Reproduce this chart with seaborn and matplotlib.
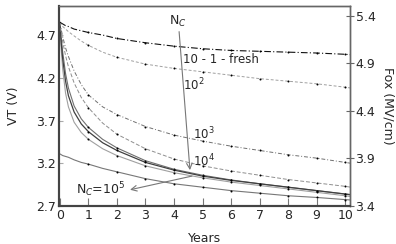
import seaborn as sns
import matplotlib.pyplot as plt
import pandas as pd
import numpy as np

# years since stress start
years = [0, 0.05, 0.1, 0.2, 0.3, 0.5, 0.75, 1, 1.5, 2, 3, 4, 5, 6, 7, 8, 9, 10, 10.2]

# VT curves
vt_fresh = [4.85, 4.84, 4.83, 4.81, 4.80, 4.77, 4.75, 4.73, 4.70, 4.66, 4.61, 4.57, 4.54, 4.52, 4.51, 4.50, 4.49, 4.475, 4.47]
vt_1e2 = [4.85, 4.82, 4.80, 4.77, 4.74, 4.69, 4.63, 4.58, 4.50, 4.44, 4.36, 4.31, 4.27, 4.23, 4.19, 4.16, 4.13, 4.09, 4.08]
vt_1e3 = [4.85, 4.76, 4.68, 4.55, 4.45, 4.28, 4.12, 4.00, 3.86, 3.77, 3.63, 3.53, 3.46, 3.40, 3.35, 3.30, 3.26, 3.21, 3.20]
vt_1e4 = [4.85, 4.72, 4.62, 4.46, 4.33, 4.14, 3.97, 3.85, 3.67, 3.54, 3.37, 3.25, 3.17, 3.11, 3.06, 3.01, 2.97, 2.93, 2.92]
vt_s1 = [4.85, 4.60, 4.42, 4.16, 3.99, 3.80, 3.66, 3.57, 3.44, 3.35, 3.21, 3.12, 3.05, 3.00, 2.96, 2.92, 2.88, 2.84, 2.83]
vt_s2 = [4.85, 4.52, 4.30, 4.02, 3.86, 3.68, 3.56, 3.48, 3.37, 3.29, 3.17, 3.09, 3.03, 2.98, 2.94, 2.90, 2.86, 2.82, 2.81]
vt_s3 = [4.85, 4.66, 4.50, 4.25, 4.08, 3.87, 3.72, 3.62, 3.48, 3.38, 3.23, 3.13, 3.06, 3.005, 2.96, 2.92, 2.88, 2.84, 2.835]
vt_1e5 = [3.31, 3.30, 3.29, 3.28, 3.27, 3.24, 3.21, 3.19, 3.14, 3.10, 3.02, 2.96, 2.92, 2.88, 2.85, 2.82, 2.80, 2.775, 2.77]

vt_ticks = [2.7, 3.2, 3.7, 4.2, 4.7]
fox_ticks = [3.4, 3.9, 4.4, 4.9, 5.4]

sns.set_style("ticks")
plt.rcParams['font.family'] = ['DejaVu Sans']

fig = plt.figure(figsize=(3.96, 2.44), dpi=100)
ax = fig.add_axes([59/396, 38/244, 291/396, 200/244])

marks = [i for i, x in enumerate(years) if float(x).is_integer() and x > 0]
curves = [
    (vt_s2, '#a0a0a0', '-', 0.8),
    (vt_s3, '#707070', '-', 0.8),
    (vt_s1, '#404040', '-', 0.9),
    (vt_1e5, '#777777', '-', 0.8),
    (vt_1e4, '#8e8e8e', (0, (4, 2)), 0.7),
    (vt_1e3, '#707070', (0, (4, 2, 1, 2)), 0.7),
    (vt_1e2, '#a0a0a0', (0, (3, 2)), 0.7),
    (vt_fresh, '#111111', (0, (6, 2, 1, 2)), 0.8),
]
for vals, col, ls, lw in curves:
    sns.lineplot(x=years, y=vals, ax=ax, color=col, linestyle=ls, linewidth=lw,
                 marker='.', markersize=1.4, markerfacecolor='black',
                 markeredgecolor='black', markevery=marks)

ax.set_xlim(-0.03, 10.17)
ax.set_ylim(2.7, 5.04)
ax.set_xticks(range(11))
ax.set_yticks(vt_ticks)
ax.set_yticklabels([f"{v:.1f}" for v in vt_ticks])
ax.tick_params(axis='y', direction='in', length=3, color='#aaaaaa', labelsize=9, pad=2)
ax.tick_params(axis='x', direction='in', length=6, color='#777777', labelsize=9, pad=2)
ax.set_xlabel("Years", fontsize=9)
ax.set_ylabel("VT (V)", fontsize=9)
ax.xaxis.set_label_coords(0.5, -0.13)
ax.yaxis.set_label_coords(-0.135, 0.5)

ax2 = ax.twinx()
ax2.set_ylim(3.4, 5.505)
ax2.set_yticks(fox_ticks)
ax2.set_yticklabels([f"{v:.1f}" for v in fox_ticks])
ax2.tick_params(axis='y', direction='inout', length=6, color='#666666', labelsize=9, pad=1)
ax2.set_ylabel("Fox (MV/cm)", fontsize=9, rotation=270, va='center')
ax2.yaxis.set_label_coords(1.13, 0.5)

for a in (ax, ax2):
    a.spines['left'].set_color('#444444')
    a.spines['left'].set_linewidth(1.5)
    a.spines['bottom'].set_color('#444444')
    a.spines['bottom'].set_linewidth(1.5)
    a.spines['top'].set_color('#666666')
    a.spines['right'].set_color('#666666')
    a.spines['top'].set_linewidth(1.0)
    a.spines['right'].set_linewidth(1.0)

# labels and arrows
ax.annotate("", xy=(4.56, 3.12), xytext=(4.18, 4.74),
            arrowprops=dict(arrowstyle='->', color='#777777', lw=0.8, shrinkA=0, shrinkB=0))
ax.text(4.14, 4.86, "N$_C$", fontsize=9, ha='center', va='center')
ax.text(4.32, 4.41, "10 - 1 - fresh", fontsize=8.5, ha='left', va='center')
ax.text(4.32, 4.12, "10$^2$", fontsize=8.5, ha='left', va='center')
ax.text(4.67, 3.54, "10$^3$", fontsize=8.5, ha='left', va='center')
ax.text(4.67, 3.23, "10$^4$", fontsize=8.5, ha='left', va='center')
ax.text(0.58, 2.89, "N$_C$=10$^5$", fontsize=9, ha='left', va='center')
ax.annotate("", xy=(2.46, 2.89), xytext=(4.63, 3.05),
            arrowprops=dict(arrowstyle='->', color='#777777', lw=0.8, shrinkA=0, shrinkB=0))

plt.savefig("out.png", dpi=100)
